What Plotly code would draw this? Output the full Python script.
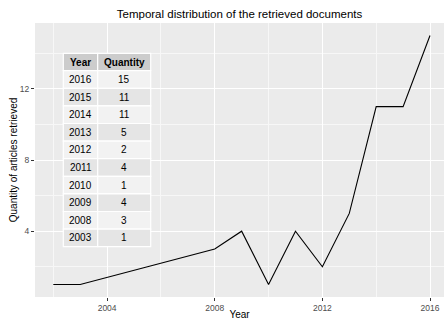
import plotly.graph_objects as go

years = [2002, 2003, 2008, 2009, 2010, 2011, 2012, 2013, 2014, 2015, 2016]
quantity = [1, 1, 3, 4, 1, 4, 2, 5, 11, 11, 15]

table_header = ["Year", "Quantity"]
table_years = ["2016", "2015", "2014", "2013", "2012", "2011", "2010", "2009", "2008", "2003"]
table_qty = ["15", "11", "11", "5", "2", "4", "1", "4", "3", "1"]

FONT = "Liberation Sans, Arial, Helvetica, sans-serif"
W, H = 445, 320
ML, MR, MT, MB = 35, 1, 23, 23
PW, PH = W - ML - MR, H - MT - MB


def px_x(p):
    return (p - ML) / PW


def px_y(p):
    return (H - MB - p) / PH


fig = go.Figure()
fig.add_trace(go.Scatter(x=years, y=quantity, mode="lines",
                         line=dict(color="black", width=1.1), showlegend=False,
                         hoverinfo="skip"))

# table (annotation_custom-like) built from shapes + annotations
col_edges = [63.3, 97.7, 150.7]
top, header_h, row_h = 53.3, 17.4, 17.6
shapes, annotations = [], []


def cell(x0, x1, y0, y1, fill, text, bold=False):
    shapes.append(dict(type="rect", xref="paper", yref="paper",
                       x0=px_x(x0), x1=px_x(x1), y0=px_y(y1), y1=px_y(y0),
                       fillcolor=fill, line=dict(color="white", width=1.2), layer="above"))
    annotations.append(dict(xref="paper", yref="paper", x=px_x((x0 + x1) / 2),
                            y=px_y((y0 + y1) / 2), xanchor="center", yanchor="middle",
                            showarrow=False,
                            text=f"<b>{text}</b>" if bold else text,
                            font=dict(family=FONT, size=10, color="black")))


for c in range(2):
    cell(col_edges[c], col_edges[c + 1], top, top + header_h, "#cccccc", table_header[c], bold=True)
for r, (yv, qv) in enumerate(zip(table_years, table_qty)):
    y0 = top + header_h + r * row_h
    fill = "#f2f2f2" if r % 2 == 0 else "#e5e5e5"
    cell(col_edges[0], col_edges[1], y0, y0 + row_h, fill, yv)
    cell(col_edges[1], col_edges[2], y0, y0 + row_h, fill, qv)

axis_common = dict(showline=False, zeroline=False, gridcolor="white", gridwidth=1.1,
                   ticks="outside", ticklen=3, tickcolor="#333333", tickwidth=1,
                   tickfont=dict(family=FONT, size=8.5, color="#4d4d4d"))

fig.update_layout(
    width=W, height=H,
    margin=dict(l=ML, r=MR, t=MT, b=MB),
    paper_bgcolor="white", plot_bgcolor="#ebebeb",
    font=dict(family=FONT),
    shapes=shapes, annotations=annotations,
    title=dict(text="Temporal distribution of the retrieved documents",
               x=0.5, xref="paper", xanchor="center", y=1 - 14 / H, yref="container",
               yanchor="middle", font=dict(family=FONT, size=11.5, color="black")),
    xaxis=dict(range=[2001.32, 2016.52], tickmode="linear", tick0=2004, dtick=4,
               minor=dict(tickmode="linear", tick0=2002, dtick=2, showgrid=True,
                          gridcolor="#f7f7f7", gridwidth=0.6, ticks=""),
               title=dict(text="Year", standoff=2, font=dict(family=FONT, size=10, color="black")),
               automargin=False, **axis_common),
    yaxis=dict(range=[0.3, 15.7], tickmode="linear", tick0=4, dtick=4,
               minor=dict(tickmode="linear", tick0=2, dtick=2, showgrid=True,
                          gridcolor="#f7f7f7", gridwidth=0.6, ticks=""),
               title=dict(text="Quantity of articles retrieved", standoff=0,
                          font=dict(family=FONT, size=10, color="black")),
               automargin=False, **axis_common),
)

fig.write_html("out.html", config={"displayModeBar": False},
               post_script="document.body.style.margin='0';")
